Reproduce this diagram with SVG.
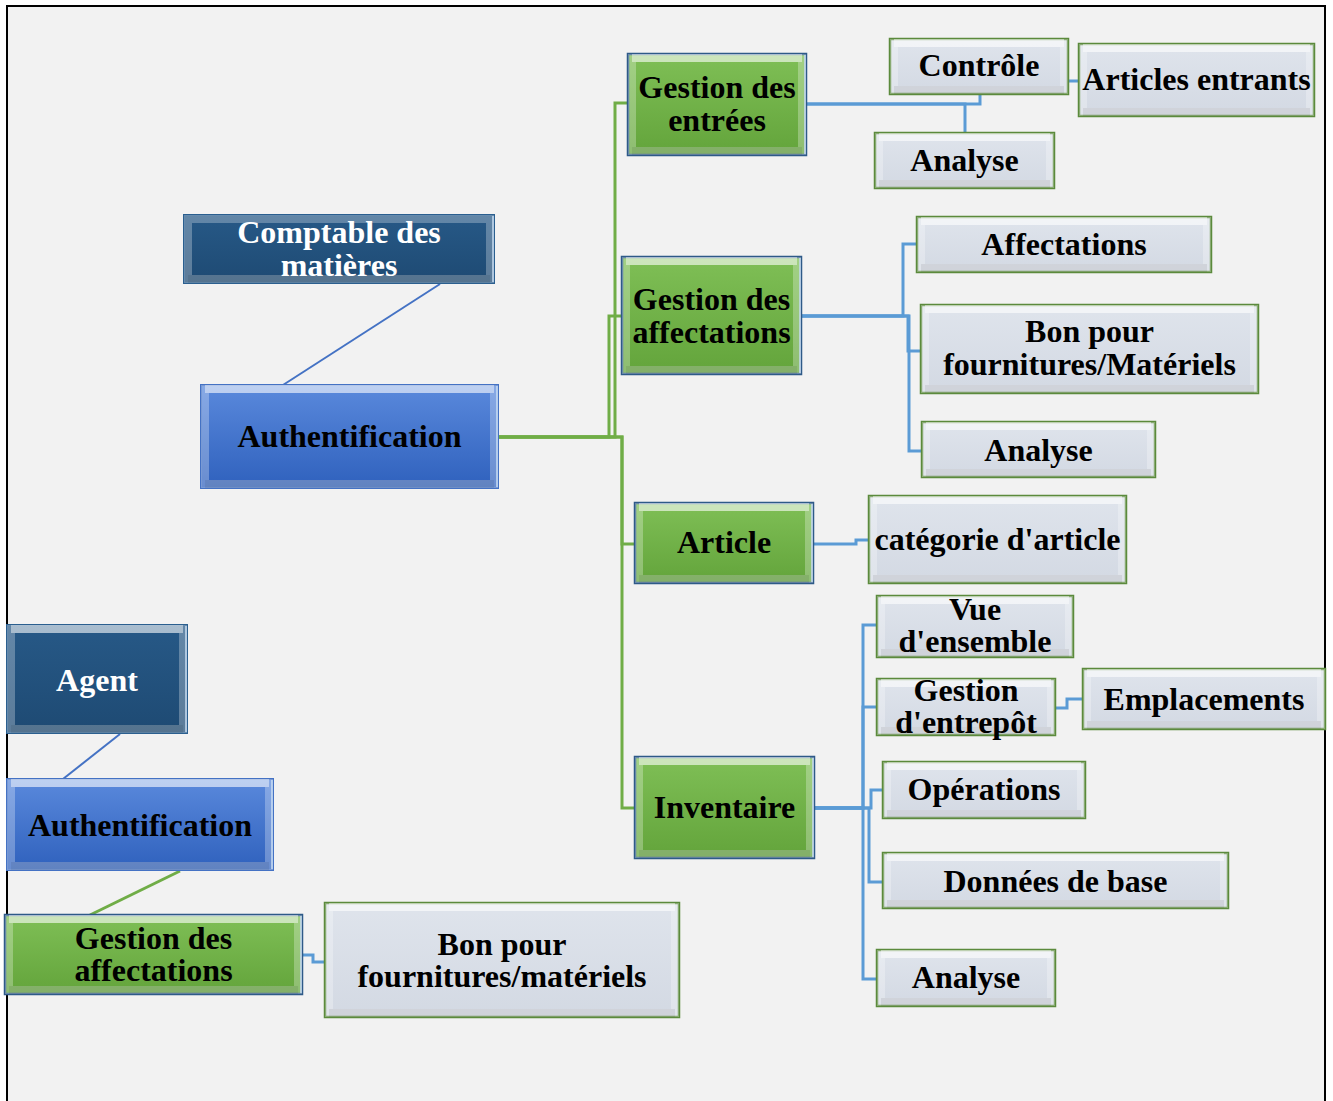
<svg xmlns="http://www.w3.org/2000/svg" width="1333" height="1101" viewBox="0 0 1333 1101">
<defs>
<linearGradient id="gGreen" x1="0" y1="0" x2="0" y2="1"><stop offset="0" stop-color="#7fbf56"/><stop offset="1" stop-color="#63a43b"/></linearGradient>
<linearGradient id="gBlue" x1="0" y1="0" x2="0" y2="1"><stop offset="0" stop-color="#5a89dc"/><stop offset="1" stop-color="#2f61bd"/></linearGradient>
<linearGradient id="gDark" x1="0" y1="0" x2="0" y2="1"><stop offset="0" stop-color="#275987"/><stop offset="1" stop-color="#1e4a73"/></linearGradient>
<linearGradient id="gGray" x1="0" y1="0" x2="0" y2="1"><stop offset="0" stop-color="#dfe4ec"/><stop offset="1" stop-color="#d3d9e3"/></linearGradient>
</defs>
<style>
.green{fill:url(#gGreen);stroke:#2e5a88;stroke-width:2.5}
.blue{fill:url(#gBlue);stroke:#4472c4;stroke-width:2}
.dark{fill:url(#gDark);stroke:#2b5f8f;stroke-width:2}
.gray{fill:url(#gGray);stroke:#5b8a3c;stroke-width:2.5}
.bev{fill:none;stroke:#ffffff;stroke-opacity:0.28;stroke-width:8}
.top{stroke:#ffffff;stroke-opacity:0.45;stroke-width:8}
.bot{stroke:#000000;stroke-opacity:0.07;stroke-width:8}
.rgt{stroke:#cfe3f7;stroke-opacity:0.7;stroke-width:2}
text{font-family:"Liberation Serif","Times New Roman",serif;font-weight:bold;font-size:32px;text-anchor:middle;fill:#000}
.wt{fill:#ffffff}
.cb{fill:none;stroke:#5b9bd5;stroke-width:3}
.cg{fill:none;stroke:#70ad47;stroke-width:3}
.cd{fill:none;stroke:#4472c4;stroke-width:2}
</style>
<rect x="0" y="0" width="1333" height="1101" fill="#ffffff"/>
<rect x="7" y="6" width="1318" height="1110" fill="#f2f2f2" stroke="#000" stroke-width="2"/>

<g id="connectors">
<path class="cd" d="M440,284 L283,385"/>
<path class="cd" d="M120,734 L63,779"/>
<path class="cg" d="M180,871 L90,915"/>
<path class="cb" d="M302,955 H313 V962 H325"/>
<path class="cg" d="M499,437 H615 V103 H628"/>
<path class="cg" d="M499,437 H609 V316 H622"/>
<path class="cg" d="M499,437 H622 V544 H635"/>
<path class="cg" d="M499,437 H622 V808 H635"/>
<path class="cb" d="M806,104 H980 V94"/>
<path class="cb" d="M806,104 H965 V133"/>
<path class="cb" d="M1068,81 H1079"/>
<path class="cb" d="M801,316 H903 V244 H917"/>
<path class="cb" d="M801,316 H908 V351 H921"/>
<path class="cb" d="M801,316 H909 V451 H922"/>
<path class="cb" d="M813,544 H856 V540 H869"/>
<path class="cb" d="M814,808 H863 V625 H877"/>
<path class="cb" d="M814,808 H863 V707 H877"/>
<path class="cb" d="M814,808 H871 V790 H883"/>
<path class="cb" d="M814,808 H869 V882 H883"/>
<path class="cb" d="M814,808 H863 V979 H877"/>
<path class="cb" d="M1055,708 H1067 V699 H1083"/>
</g>

<g id="n-comptable" transform="translate(184,215)">
<rect class="dark" width="310" height="68"/><rect class="bev" x="4" y="4" width="302" height="60"/><path class="bot" d="M4,64 H306"/><path class="rgt" d="M309,1 V67"/>
<text class="wt" x="155" y="28">Comptable des</text><text class="wt" x="155" y="61">matières</text>
</g>
<g id="n-auth1" transform="translate(201,385)">
<rect class="blue" width="297" height="103"/><rect class="bev" x="4" y="4" width="289" height="95"/><path class="top" d="M4,4 H293"/><path class="bot" d="M4,99 H293"/><path class="rgt" d="M296,1 V102"/>
<text x="148.5" y="62">Authentification</text>
</g>
<g id="n-gentrees" transform="translate(628,54)">
<rect class="green" width="178" height="101"/><rect class="bev" x="4" y="4" width="170" height="93"/><path class="top" d="M4,4 H174"/><path class="bot" d="M4,97 H174"/><path class="rgt" d="M177,1 V100"/>
<text x="89" y="44">Gestion des</text><text x="89" y="77">entrées</text>
</g>
<g id="n-gaff" transform="translate(622,257)">
<rect class="green" width="179" height="117"/><rect class="bev" x="4" y="4" width="171" height="109"/><path class="top" d="M4,4 H175"/><path class="bot" d="M4,113 H175"/><path class="rgt" d="M178,1 V116"/>
<text x="89.5" y="53">Gestion des</text><text x="89.5" y="86">affectations</text>
</g>
<g id="n-article" transform="translate(635,503)">
<rect class="green" width="178" height="80"/><rect class="bev" x="4" y="4" width="170" height="72"/><path class="top" d="M4,4 H174"/><path class="bot" d="M4,76 H174"/><path class="rgt" d="M177,1 V79"/>
<text x="89" y="50">Article</text>
</g>
<g id="n-inventaire" transform="translate(635,757)">
<rect class="green" width="179" height="101"/><rect class="bev" x="4" y="4" width="171" height="93"/><path class="top" d="M4,4 H175"/><path class="bot" d="M4,97 H175"/><path class="rgt" d="M178,1 V100"/>
<text x="89.5" y="61">Inventaire</text>
</g>
<g id="n-controle" transform="translate(890,39)">
<rect class="gray" width="178" height="55"/><rect class="bev" x="4" y="4" width="170" height="47"/><path class="top" d="M4,4 H174"/><path class="bot" d="M4,51 H174"/>
<text x="89" y="37">Contrôle</text>
</g>
<g id="n-entrants" transform="translate(1079,44)">
<rect class="gray" width="235" height="72"/><rect class="bev" x="4" y="4" width="227" height="64"/><path class="top" d="M4,4 H231"/><path class="bot" d="M4,68 H231"/>
<text x="117.5" y="46">Articles entrants</text>
</g>
<g id="n-analyse1" transform="translate(875,133)">
<rect class="gray" width="179" height="55"/><rect class="bev" x="4" y="4" width="171" height="47"/><path class="top" d="M4,4 H175"/><path class="bot" d="M4,51 H175"/>
<text x="89.5" y="38">Analyse</text>
</g>
<g id="n-affectations" transform="translate(917,217)">
<rect class="gray" width="294" height="55"/><rect class="bev" x="4" y="4" width="286" height="47"/><path class="top" d="M4,4 H290"/><path class="bot" d="M4,51 H290"/>
<text x="147" y="38">Affectations</text>
</g>
<g id="n-bonpour1" transform="translate(921,305)">
<rect class="gray" width="337" height="88"/><rect class="bev" x="4" y="4" width="329" height="80"/><path class="top" d="M4,4 H333"/><path class="bot" d="M4,84 H333"/>
<text x="168.5" y="37">Bon pour</text><text x="168.5" y="70">fournitures/Matériels</text>
</g>
<g id="n-analyse2" transform="translate(922,422)">
<rect class="gray" width="233" height="55"/><rect class="bev" x="4" y="4" width="225" height="47"/><path class="top" d="M4,4 H229"/><path class="bot" d="M4,51 H229"/>
<text x="116.5" y="39">Analyse</text>
</g>
<g id="n-categorie" transform="translate(869,496)">
<rect class="gray" width="257" height="87"/><rect class="bev" x="4" y="4" width="249" height="79"/><path class="top" d="M4,4 H253"/><path class="bot" d="M4,83 H253"/>
<text x="128.5" y="54">catégorie d'article</text>
</g>
<g id="n-vue" transform="translate(877,596)">
<rect class="gray" width="196" height="61"/><rect class="bev" x="4" y="4" width="188" height="53"/><path class="top" d="M4,4 H192"/><path class="bot" d="M4,57 H192"/>
<text x="98" y="24">Vue</text><text x="98" y="56">d'ensemble</text>
</g>
<g id="n-entrepot" transform="translate(877,679)">
<rect class="gray" width="178" height="56"/><rect class="bev" x="4" y="4" width="170" height="48"/><path class="top" d="M4,4 H174"/><path class="bot" d="M4,52 H174"/>
<text x="89" y="22">Gestion</text><text x="89" y="54">d'entrepôt</text>
</g>
<g id="n-emplacements" transform="translate(1083,669)">
<rect class="gray" width="242" height="60"/><rect class="bev" x="4" y="4" width="234" height="52"/><path class="top" d="M4,4 H238"/><path class="bot" d="M4,56 H238"/>
<text x="121" y="41">Emplacements</text>
</g>
<g id="n-operations" transform="translate(883,762)">
<rect class="gray" width="202" height="56"/><rect class="bev" x="4" y="4" width="194" height="48"/><path class="top" d="M4,4 H198"/><path class="bot" d="M4,52 H198"/>
<text x="101" y="38">Opérations</text>
</g>
<g id="n-donnees" transform="translate(883,853)">
<rect class="gray" width="345" height="55"/><rect class="bev" x="4" y="4" width="337" height="47"/><path class="top" d="M4,4 H341"/><path class="bot" d="M4,51 H341"/>
<text x="172.5" y="39">Données de base</text>
</g>
<g id="n-analyse3" transform="translate(877,950)">
<rect class="gray" width="178" height="56"/><rect class="bev" x="4" y="4" width="170" height="48"/><path class="top" d="M4,4 H174"/><path class="bot" d="M4,52 H174"/>
<text x="89" y="38">Analyse</text>
</g>
<g id="n-agent" transform="translate(7,625)">
<rect class="dark" width="180" height="108"/><rect class="bev" x="4" y="4" width="172" height="100"/><path class="top" d="M4,4 H176"/><path class="bot" d="M4,104 H176"/><path class="rgt" d="M179,1 V107"/>
<text class="wt" x="90" y="66">Agent</text>
</g>
<g id="n-auth2" transform="translate(7,779)">
<rect class="blue" width="266" height="91"/><rect class="bev" x="4" y="4" width="258" height="83"/><path class="top" d="M4,4 H262"/><path class="bot" d="M4,87 H262"/><path class="rgt" d="M265,1 V90"/>
<text x="133" y="57">Authentification</text>
</g>
<g id="n-gaff2" transform="translate(5,915)">
<rect class="green" width="297" height="79"/><rect class="bev" x="4" y="4" width="289" height="71"/><path class="top" d="M4,4 H293"/><path class="bot" d="M4,75 H293"/><path class="rgt" d="M296,1 V78"/>
<text x="148.5" y="34">Gestion des</text><text x="148.5" y="66">affectations</text>
</g>
<g id="n-bonpour2" transform="translate(325,903)">
<rect class="gray" width="354" height="114"/><rect class="bev" x="4" y="4" width="346" height="106"/><path class="top" d="M4,4 H350"/><path class="bot" d="M4,110 H350"/>
<text x="177" y="52">Bon pour</text><text x="177" y="84">fournitures/matériels</text>
</g>
</svg>
